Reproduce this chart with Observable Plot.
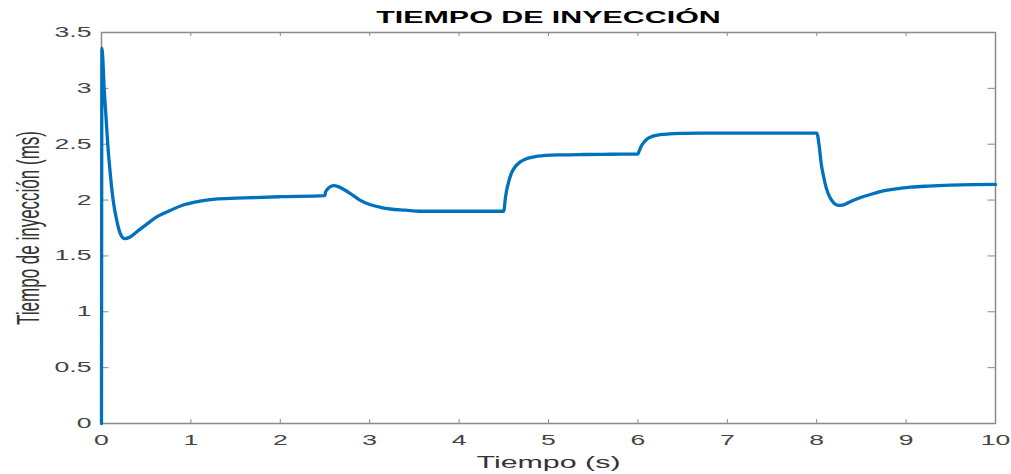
<!DOCTYPE html>
<html>
<head>
<meta charset="utf-8">
<script src="https://cdn.jsdelivr.net/npm/d3@7"></script>
<script src="https://cdn.jsdelivr.net/npm/@observablehq/plot@0.6"></script>
<style>
  html, body { margin: 0; padding: 0; background: white; }
</style>
</head>
<body>
<script>
const TITLE = "TIEMPO DE INYECCIÓN";
const X_LABEL = "Tiempo (s)";
const Y_LABEL = "Tiempo de inyección (ms)";
const xTicks = [0, 1, 2, 3, 4, 5, 6, 7, 8, 9, 10];
const yTicks = [0, 0.5, 1, 1.5, 2, 2.5, 3, 3.5];

const times = [
  0, 0.005, 0.012, 0.03, 0.05, 0.07, 0.1, 0.13, 0.17, 0.21, 0.26, 0.32, 0.4, 0.5, 0.6, 0.75, 0.93, 1.1, 1.3, 1.6, 2.0,
  2.5, 2.505, 2.52, 2.56, 2.6, 2.65, 2.72, 2.78, 2.89, 3.0, 3.12, 3.23, 3.4, 3.56, 3.9, 4.2,
  4.5, 4.505, 4.515, 4.53, 4.55, 4.58, 4.62, 4.68, 4.74, 4.8, 4.88, 4.97, 5.15, 5.4, 5.7,
  6.0, 6.01, 6.03, 6.06, 6.1, 6.16, 6.25, 6.35, 6.5, 6.7, 7.0, 7.5,
  8.0, 8.01, 8.03, 8.05, 8.08, 8.11, 8.15, 8.19, 8.24, 8.29, 8.35, 8.42, 8.5, 8.6, 8.71, 8.85, 9.05, 9.25, 9.5, 9.75, 10
];
const values = [
  0, 3.36, 3.3, 3.0, 2.75, 2.5, 2.22, 2.0, 1.82, 1.7, 1.655, 1.67, 1.72, 1.78, 1.84, 1.9, 1.96, 1.99, 2.01, 2.02, 2.03,
  2.04, 2.07, 2.09, 2.12, 2.13, 2.12, 2.09, 2.06, 2.0, 1.96, 1.935, 1.92, 1.91, 1.9, 1.9, 1.9,
  1.9, 1.92, 2.0, 2.08, 2.15, 2.23, 2.29, 2.34, 2.365, 2.38, 2.393, 2.4, 2.405, 2.408, 2.41,
  2.412, 2.43, 2.47, 2.51, 2.545, 2.57, 2.585, 2.592, 2.597, 2.6, 2.6, 2.6,
  2.6, 2.58, 2.47, 2.33, 2.2, 2.1, 2.02, 1.975, 1.952, 1.955, 1.975, 2.0, 2.025, 2.05, 2.075, 2.095, 2.115, 2.125, 2.133, 2.138, 2.14
];

const data = times.map((t, i) => ({t, v: values[i]}));

const W = 1011, H = 474;
const mL = 101, mR = 16, mT = 32, mB = 51;
const plotW = W - mL - mR, plotH = H - mT - mB;
const GRAY = "#8a8a8a";
const TEXT = "#444";

const svg = Plot.plot({
  width: W,
  height: H,
  marginLeft: mL,
  marginRight: mR,
  marginTop: mT,
  marginBottom: mB,
  style: {fontFamily: "'Liberation Sans', Arial, sans-serif", background: "white"},
  x: {domain: [0, 10]},
  y: {domain: [0, 3.5]},
  marks: [
    Plot.frame({stroke: GRAY, strokeWidth: 1.5}),
    Plot.tickX(xTicks, {x: d => d, insetTop: plotH - 4, stroke: GRAY}),
    Plot.tickX(xTicks, {x: d => d, insetBottom: plotH - 4, stroke: GRAY}),
    Plot.tickY(yTicks, {y: d => d, insetRight: plotW - 7.5, stroke: GRAY}),
    Plot.tickY(yTicks, {y: d => d, insetLeft: plotW - 7.5, stroke: GRAY}),
    Plot.axisX(xTicks, {anchor: "bottom", tickSize: 0, tickPadding: 12, label: null, fontSize: 14, color: TEXT, tickFormat: d => String(d)}),
    Plot.axisY(yTicks, {anchor: "left", tickSize: 0, tickPadding: 10, label: null, fontSize: 14, color: TEXT, tickFormat: d => String(d)}),
    Plot.line(data, {x: "t", y: "v", stroke: "#0072BD", strokeWidth: 3.3, curve: "monotone-x"}),
    Plot.text([TITLE], {text: d => d, frameAnchor: "top", textAnchor: "middle", dy: -14.5, lineAnchor: "middle", fontSize: 16, fontWeight: "bold", fill: "black"}),
    Plot.text([X_LABEL], {text: d => d, frameAnchor: "bottom", textAnchor: "middle", dy: 39, lineAnchor: "middle", fontSize: 16, fill: "#333"}),
    Plot.text([Y_LABEL], {text: d => d, frameAnchor: "left", textAnchor: "middle", dx: -73, rotate: -90, lineAnchor: "middle", fontSize: 17, fill: "#333"})
  ]
});

document.body.appendChild(svg);

const S = 1.9;
function stretch(el, sx, sy) {
  const x = parseFloat(el.getAttribute("x")) || 0;
  const y = parseFloat(el.getAttribute("y")) || 0;
  const t = el.getAttribute("transform") || "";
  el.setAttribute("transform", `${t} translate(${x},${y}) scale(${sx},${sy}) translate(${-x},${-y})`);
}
svg.querySelectorAll("text").forEach(el => {
  const s = el.textContent;
  if (s === Y_LABEL) stretch(el, 1, S);
  else stretch(el, S, 1);
});
</script>
</body>
</html>
